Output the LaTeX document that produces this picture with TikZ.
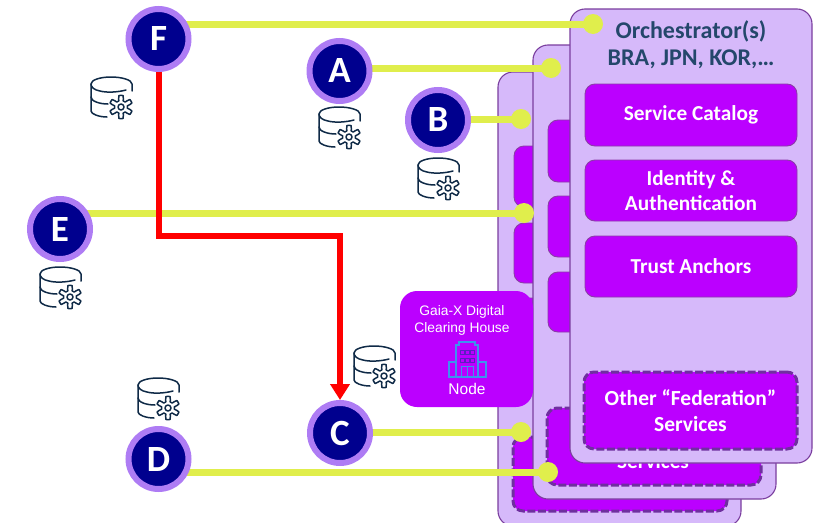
\documentclass[tikz,border=0pt]{standalone}
\usepackage{fontspec}
\setmainfont{Carlito}
\newfontfamily\gaiafont{Liberation Sans}
\usetikzlibrary{arrows.meta}
\pgfdeclarelayer{base}
\pgfdeclarelayer{links}
\pgfsetlayers{base,links,main}
\definecolor{cardfill}{HTML}{D6B9FA}
\definecolor{cardline}{HTML}{7A3E9E}
\definecolor{boxfill}{HTML}{BB00FF}
\definecolor{boxline}{HTML}{8B3BA8}
\definecolor{dashline}{HTML}{6F2F9F}
\definecolor{ring}{HTML}{AE7CF4}
\definecolor{navycore}{HTML}{00008E}
\definecolor{limeline}{HTML}{E0EE4C}
\definecolor{titleblue}{HTML}{24476B}
\definecolor{icondark}{HTML}{0F2A47}
\definecolor{bldg}{HTML}{3E92EE}
\definecolor{bldgdark}{HTML}{5A1FC0}
\newcommand{\bx}[7]{\node[#2,anchor=north west,minimum width={(#5-#3)*1pt},minimum height={(#6-#4)*1pt}] (#1) at (#3,#4) {#7};}
\newcommand{\dn}[1]{\raisebox{-1.2pt}{#1}}
\tikzset{
  cardbox/.style={draw=cardline,fill=cardfill,line width=1.1pt,rounded corners=15pt,inner sep=0pt,outer sep=0pt},
  svcbox/.style={draw=boxline,fill=boxfill,line width=0.9pt,rounded corners=10pt,inner sep=0pt,outer sep=0pt,text=white,font=\fontsize{21.3}{25}\selectfont\bfseries,align=center},
  dashbox/.style={draw=dashline,fill=boxfill,line width=3pt,dash pattern=on 8pt off 2.5pt,rounded corners=10pt,inner sep=0pt,outer sep=0pt,text=white,font=\fontsize{21.5}{26}\selectfont\bfseries,align=center},
  gaiabox/.style={fill=boxfill,rounded corners=17pt,inner sep=0pt,outer sep=0pt},
  letter/.style={circle,draw=ring,fill=navycore,line width=6pt,minimum size=60pt,inner sep=0pt,text=white,font=\fontsize{37}{37}\selectfont\bfseries},
  dot/.style={circle,fill=limeline,minimum size=20pt,inner sep=0pt,outer sep=0pt},
  limelink/.style={draw=limeline,line width=7pt},
  redlink/.style={draw=red,line width=6pt,-{Triangle[width=19pt,length=16pt]}},
  iconline/.style={draw=icondark,line width=1.5pt,line cap=round,line join=round},
  bldgline/.style={draw=bldg,line width=1.1pt},
  dbgear/.pic={
    \draw[iconline] (14,-9) .. controls (7,-7) and (-5,-6) .. (-12,-8) .. controls (-18,-9) and (-21,-12) .. (-21,-15)
      .. controls (-21,-19) and (-12,-22) .. (-1,-22) .. controls (10,-22) and (20,-19) .. (20,-15) -- (20,-8);
    \draw[iconline] (-21,-15) -- (-21,12) .. controls (-21,15) and (-13,18) .. (-5,18);
    \draw[iconline] (-21,-2) .. controls (-21,2) and (-13,5) .. (-4,5);
    \draw[iconline] plot[samples=73,domain=0:360,variable=\t] ({9+(9+2.6*max(min(-2.2*cos(6*\t),1),-1))*cos(\t)},{8+(9+2.6*max(min(-2.2*cos(6*\t),1),-1))*sin(\t)}) -- cycle;
    \draw[iconline] (9,8) circle[radius=3pt];
  }
}
\begin{document}
\begin{tikzpicture}[x=1pt,y=-1pt]
\useasboundingbox (0,0) rectangle (813,522);
\begin{pgfonlayer}{base}
\begin{scope}
\clip (0,0) rectangle (813,522);
\bx{backcard}{cardbox}{498}{72}{741}{526}{}
\bx{backa}{svcbox}{514}{146}{600}{207}{}
\bx{backb}{svcbox}{514}{223}{600}{283}{}
\bx{backc}{svcbox}{514}{298}{600}{359}{}
\bx{backd}{dashbox}{513}{437}{727}{511}{}
\end{scope}
\bx{midcard}{cardbox}{533}{45}{776}{499}{}
\bx{mida}{svcbox}{548}{120}{640}{182}{}
\bx{midb}{svcbox}{548}{196}{640}{257}{}
\bx{midc}{svcbox}{548}{272}{640}{332}{}
\bx{midd}{dashbox}{547}{408}{761}{485}{}
\node[text=white,font=\fontsize{21.3}{25}\selectfont\bfseries] (midtext) at (653,461) {Services};
\bx{frontcard}{cardbox}{570}{9}{812}{463}{}
\node[text=titleblue,font=\fontsize{24}{27}\selectfont\bfseries,align=center] (orch) at (691,44.5) {Orchestrator(s)\\BRA, JPN, KOR,…};
\bx{catalog}{svcbox}{585}{84}{797}{146}{\dn{Service Catalog}}
\bx{identity}{svcbox}{585}{160}{797}{221}{\dn{Identity \&}\\\dn{Authentication}}
\bx{trust}{svcbox}{585}{236}{797}{297}{\dn{Trust Anchors}}
\bx{other}{dashbox}{584}{372}{797}{449}{Other “Federation”\\Services}

\pic at (112,99) {dbgear};
\pic at (340,129) {dbgear};
\pic at (439,180) {dbgear};
\pic at (61,289) {dbgear};
\pic at (375,368) {dbgear};
\pic at (159,400) {dbgear};

\bx{gaia}{gaiabox}{400}{291}{533}{407}{}
\node[text=white,font=\gaiafont\fontsize{13.8}{17}\selectfont,align=center] (gaiatext) at (462,320) {Gaia-X Digital\\Clearing House};
\node[text=white,font=\gaiafont\fontsize{15.5}{17}\selectfont] (nodetext) at (467,389) {Node};
\draw[bldgline] (456,377) -- (456,345) -- (459,345) -- (459,342) -- (475,342) -- (475,345) -- (478,345) -- (478,377);
\draw[bldgline] (456,362) -- (449,362) -- (449,377) -- (486,377) -- (486,362) -- (478,362);
\draw[bldgline,line width=0.6pt] (461,377) -- (461,366) -- (473,366) -- (473,377) (467,366) -- (467,377);
\foreach \wx in {460,465,470}{\foreach \wy in {350,358}{
  \draw[draw=bldgdark,line width=0.7pt] (\wx,\wy) rectangle ++(4,4);
}}
\end{pgfonlayer}

\node[letter] (F) at (158.5,39) {F};
\node[letter] (A) at (339.5,71) {A};
\node[letter] (B) at (438,120) {B};
\node[letter] (E) at (60,229) {E};
\node[letter] (C) at (340,433) {C};
\node[letter] (D) at (158.5,459) {D};

\node[dot] (dF) at (593,24) {};
\node[dot] (dA) at (551,68) {};
\node[dot] (dB) at (521,119) {};
\node[dot] (dE) at (524,213) {};
\node[dot] (dC) at (521,432) {};
\node[dot] (dD) at (548,472) {};

\begin{pgfonlayer}{links}
\draw[limelink] (dF.center) -- (F.center|-dF.center);
\draw[limelink] (dA.center) -- (A.center|-dA.center);
\draw[limelink] (dB.center) -- (B.center|-dB.center);
\draw[limelink] (dE.center) -- (E.center|-dE.center);
\draw[limelink] (dC.center) -- (C.center|-dC.center);
\draw[limelink] (dD.center) -- (D.center|-dD.center);
\coordinate (redbend) at (340,236);
\draw[redlink] (F.south) |- (redbend) -- (C.north);
\end{pgfonlayer}
\end{tikzpicture}
\end{document}
